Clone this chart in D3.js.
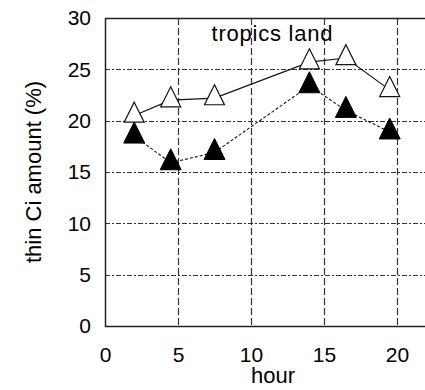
<!DOCTYPE html>
<html>
<head>
<meta charset="utf-8">
<script src="https://cdn.jsdelivr.net/npm/d3@7"></script>
<style>
  html, body { margin: 0; padding: 0; background: #fff; }
  svg { display: block; }
  text { font-family: "Liberation Sans", Arial, sans-serif; fill: #000; }
</style>
</head>
<body>
<svg id="chart" width="425" height="390"></svg>
<script>
// Diurnal cycle of thin cirrus amount over tropical land
const hoursOpen   = [2.0, 4.5, 7.5, 14.0, 16.5, 19.5];
const amountOpen  = [20.5, 22.0, 22.2, 25.7, 26.1, 23.0];
const hoursFilled = [2.0, 4.5, 7.5, 14.0, 16.5, 19.5];
const amountFilled = [18.5, 15.9, 16.9, 23.4, 21.0, 18.9];
const xTicks = [0, 5, 10, 15, 20];
const yTicks = [0, 5, 10, 15, 20, 25, 30];

const svg = d3.select("#chart");
const plotLeft = 105, plotTop = 18, plotBottom = 326;
const x = d3.scaleLinear().domain([0, 24]).range([plotLeft, plotLeft + 24 * 14.6]);
const y = d3.scaleLinear().domain([0, 30]).range([plotBottom, plotTop]);
const plotRight = x(24);

// grid
const grid = svg.append("g").attr("stroke", "#333").attr("stroke-width", 1.2).attr("fill", "none");
grid.selectAll("line.v").data(xTicks.filter(d => d > 0)).join("line")
  .attr("x1", d => Math.round(x(d)) + 0.5).attr("x2", d => Math.round(x(d)) + 0.5)
  .attr("y1", plotTop).attr("y2", plotBottom)
  .attr("stroke-dasharray", "7,3");
grid.selectAll("line.h").data(yTicks.filter(d => d > 0 && d < 30)).join("line")
  .attr("y1", d => Math.round(y(d)) + 0.5).attr("y2", d => Math.round(y(d)) + 0.5)
  .attr("x1", plotLeft).attr("x2", plotRight)
  .attr("stroke-dasharray", "5,2,2,2");

// frame
svg.append("rect")
  .attr("x", plotLeft + 0.5).attr("y", plotTop + 0.5)
  .attr("width", plotRight - plotLeft).attr("height", plotBottom - plotTop)
  .attr("fill", "none").attr("stroke", "#222").attr("stroke-width", 1.5);

// tick labels from d3 axes (domain and tick lines hidden)
const xAxis = svg.append("g").attr("transform", `translate(0,${plotBottom})`)
  .call(d3.axisBottom(x).tickValues(xTicks).tickSize(0).tickPadding(21));
const yAxis = svg.append("g").attr("transform", `translate(${plotLeft},0)`)
  .call(d3.axisLeft(y).tickValues(yTicks).tickSize(0).tickPadding(14));
[xAxis, yAxis].forEach(a => {
  a.select(".domain").remove();
  a.selectAll("text").attr("font-size", 21).attr("font-family", "Liberation Sans, Arial, sans-serif").attr("fill", "#000");
});

// series lines
const line = d3.line().x(d => x(d[0])).y(d => y(d[1]));
const openPts = hoursOpen.map((h, i) => [h, amountOpen[i]]);
const filledPts = hoursFilled.map((h, i) => [h, amountFilled[i]]);
svg.append("path").datum(openPts).attr("d", line)
  .attr("fill", "none").attr("stroke", "#111").attr("stroke-width", 1.1);
svg.append("path").datum(filledPts).attr("d", line)
  .attr("fill", "none").attr("stroke", "#111").attr("stroke-width", 1.1)
  .attr("stroke-dasharray", "3,2");

// triangle markers (point sits at the centroid)
const tri = (cx, cy, s) => {
  const h = s;
  return `M${cx},${cy - h * 2 / 3}L${cx + s / 2},${cy + h / 3}L${cx - s / 2},${cy + h / 3}Z`;
};
svg.selectAll("path.open").data(openPts).join("path")
  .attr("class", "open")
  .attr("d", d => tri(x(d[0]), y(d[1]), 20))
  .attr("fill", "#fff").attr("stroke", "#111").attr("stroke-width", 1.2);
svg.selectAll("path.filled").data(filledPts).join("path")
  .attr("class", "filled")
  .attr("d", d => tri(x(d[0]), y(d[1]), 21))
  .attr("fill", "#000").attr("stroke", "#000").attr("stroke-width", 1);

// title and axis titles
svg.append("text").attr("x", 272).attr("y", 41).attr("text-anchor", "middle")
  .attr("font-size", 22).attr("textLength", 121).text("tropics land");
svg.append("text").attr("x", 273).attr("y", 383).attr("text-anchor", "middle")
  .attr("font-size", 22).text("hour");
svg.append("text").attr("transform", "translate(41,172) rotate(-90)")
  .attr("text-anchor", "middle").attr("font-size", 22).text("thin Ci amount (%)");
</script>
</body>
</html>
